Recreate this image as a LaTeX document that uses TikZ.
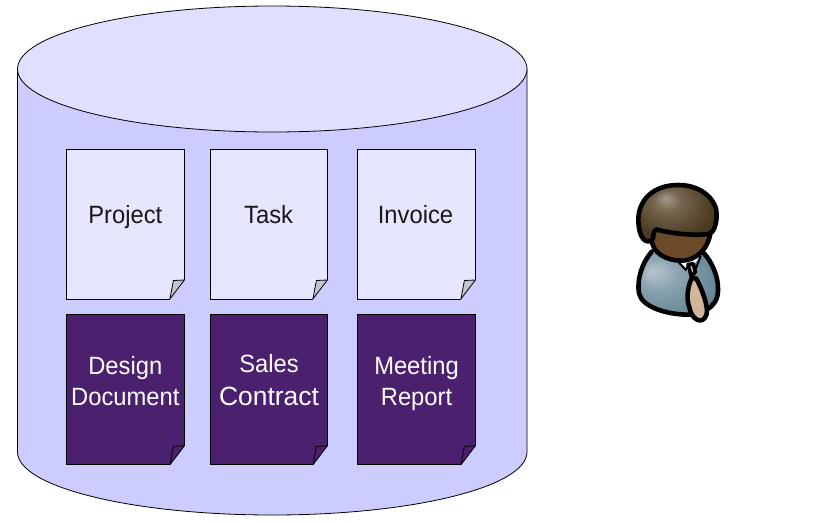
\documentclass[tikz,border=0pt]{standalone}
\usepackage{fontspec}
\setmainfont{Liberation Sans}
\newfontfamily\labelfont[FakeStretch=0.95]{Liberation Sans}
\definecolor{hairlight}{HTML}{A09A8C}
\definecolor{hairmid}{HTML}{74654D}
\definecolor{hairdark}{HTML}{4A3B21}
\definecolor{bodylight}{HTML}{B7C6CE}
\definecolor{bodymid}{HTML}{86A0AE}
\definecolor{bodydark}{HTML}{61808F}
\definecolor{drum}{HTML}{CCCCFF}
\definecolor{drumtop}{HTML}{DFDFFF}
\definecolor{docl}{HTML}{E6E6FF}
\definecolor{docd}{HTML}{4B206E}
\definecolor{foldg}{HTML}{C4C4CC}
\definecolor{facec}{HTML}{6B4A2A}
\definecolor{tiec}{HTML}{D2B699}
\pgfdeclareradialshading{hairshade}{\pgfpoint{-8bp}{14bp}}{color(0bp)=(hairlight); color(9bp)=(hairmid); color(26bp)=(hairdark); color(50bp)=(hairdark)}
\pgfdeclareradialshading{bodyshade}{\pgfpoint{-16bp}{10bp}}{color(0bp)=(bodylight); color(14bp)=(bodymid); color(34bp)=(bodydark); color(50bp)=(bodydark)}
\tikzset{
  docshape/.style={draw=black,line width=0.8pt,line join=miter},
  doclabel/.style={anchor=base,inner sep=0pt,font=\labelfont\fontsize{25}{30}\selectfont},
  doclabelbig/.style={anchor=base,inner sep=0pt,font=\fontsize{26.4}{30}\selectfont},
  pline/.style={draw=black,line width=4.6pt,line join=round,line cap=round},
}
\newcommand{\docsheet}[5]{% x, y, width, fill, fold
  \fill[#4] (#1,#2) -- ++(#3,0) -- ++(0,131) -- ++(-14.5,19) -- ++(-#3+14.5,0) -- cycle;
  \draw[docshape] (#1+#3-14.5,#2+150) -- (#1,#2+150) -- (#1,#2) -- (#1+#3,#2) -- (#1+#3,#2+131);
  \filldraw[docshape,fill=#5,line join=round] (#1+#3,#2+131) -- (#1+#3-11,#2+131.5) -- (#1+#3-14.5,#2+150) -- cycle;
}
\begin{document}
\begin{tikzpicture}[x=1pt,y=-1pt]
\useasboundingbox (0,0) rectangle (821,522);
% cylinder
\filldraw[fill=drum,draw=black,line width=0.8pt] (17.5,69) -- (17.5,452) arc[start angle=180,end angle=0,x radius=254.75,y radius=63] -- (527,69) -- cycle;
\filldraw[fill=drumtop,draw=black,line width=0.8pt] (272.25,69) ellipse[x radius=254.75,y radius=63];
% documents
\docsheet{66.4}{149}{118}{docl}{foldg}
\docsheet{210.2}{149}{117.2}{docl}{foldg}
\docsheet{357.4}{149}{118}{docl}{foldg}
\docsheet{66.4}{314.8}{118}{docd}{docd}
\docsheet{210.2}{314.8}{117.2}{docd}{docd}
\docsheet{357.4}{314.8}{118}{docd}{docd}
\node[doclabel,text=black!90] (project) at (125.3,223.2) {Project};
\node[doclabel,text=black!90] (task) at (268.6,223.2) {Task};
\node[doclabel,text=black!90] (invoice) at (415.5,223.2) {Invoice};
\node[doclabel,text=white] (design) at (125.3,374.6) {Design};
\node[doclabel,text=white] (document) at (125.3,405) {Document};
\node[doclabel,text=white] (sales) at (269,372.5) {Sales};
\node[doclabelbig,text=white] (contract) at (269,405) {Contract};
\node[doclabel,text=white] (meeting) at (416.5,374.4) {Meeting};
\node[doclabel,text=white] (report) at (416.5,405) {Report};
% person
\begin{scope}[shift={(610,170)},x=0.3333pt,y=-0.3333pt]
  % body
  \path[shading=bodyshade] (125,245) .. controls (95,280) and (80,330) .. (87,370) .. controls (95,410) and (170,436) .. (245,434) .. controls (290,426) and (325,405) .. (324,360) .. controls (326,320) and (305,275) .. (282,250) -- (215,275) -- cycle;
  \draw[pline] (125,245) .. controls (95,280) and (80,330) .. (87,370) .. controls (95,410) and (170,436) .. (245,434) .. controls (290,426) and (325,405) .. (324,360) .. controls (326,320) and (305,275) .. (282,250);
  % collar
  \fill[white] (205,275) -- (235,305) -- (268,262) -- cycle;
  \draw[black,line width=2pt,line join=round] (207,278) -- (228,300) -- (236,282) -- (250,282) -- (256,300) -- (272,258);
  % face
  \fill[facec] (125,205) .. controls (125,250) and (170,272) .. (215,272) .. controls (255,272) and (295,240) .. (302,185) -- (300,170) -- (135,165) -- cycle;
  \draw[pline] (125,205) .. controls (125,250) and (170,272) .. (215,272) .. controls (255,272) and (295,240) .. (302,185);
  % hair
  \path[shading=hairshade] (125,212) .. controls (95,225) and (85,180) .. (85,150) .. controls (85,90) and (130,45) .. (205,45) .. controls (280,45) and (322,95) .. (320,135) .. controls (320,160) and (312,190) .. (295,192) .. controls (250,198) and (180,190) .. (138,178) .. controls (128,185) and (132,205) .. (125,212) -- cycle;
  \draw[pline] (125,212) .. controls (95,225) and (85,180) .. (85,150) .. controls (85,90) and (130,45) .. (205,45) .. controls (280,45) and (322,95) .. (320,135) .. controls (320,160) and (312,190) .. (295,192) .. controls (250,198) and (180,190) .. (138,178) .. controls (128,185) and (132,205) .. (125,212) -- cycle;
  % tie
  \filldraw[fill=tiec,draw=black,line width=3.6pt,line join=round] (234,284) -- (250,281) -- (256,306) -- (244,320) -- cycle;
  \filldraw[fill=tiec,draw=black,line width=4.6pt,line join=round] (245,325) .. controls (233,350) and (228,385) .. (238,412) .. controls (248,462) and (292,465) .. (291,418) .. controls (287,385) and (270,345) .. (258,325) -- cycle;
\end{scope}
\end{tikzpicture}
\end{document}
